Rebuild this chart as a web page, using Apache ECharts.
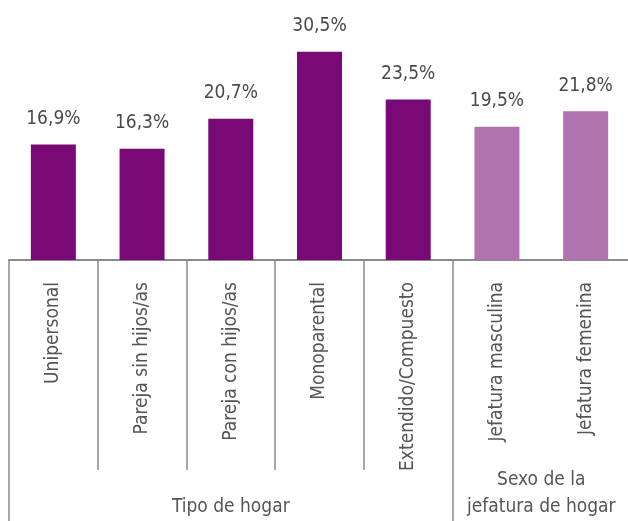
<!DOCTYPE html>
<html>
<head>
<meta charset="utf-8">
<script src="https://cdn.jsdelivr.net/npm/echarts@6/dist/echarts.min.js"></script>
<style>
    html, body { margin: 0; padding: 0; background: #fff; overflow: hidden; }
    #wrap { width: 628px; height: 521px; overflow: hidden; }
    #chart { width: 632px; height: 521px; }
</style>
</head>
<body>
<div id="wrap"><div id="chart"></div></div>
<script>
const categories = ['Unipersonal', 'Pareja sin hijos/as', 'Pareja con hijos/as', 'Monoparental', 'Extendido/Compuesto', 'Jefatura masculina', 'Jefatura femenina'];
const values = [16.9, 16.3, 20.7, 30.5, 23.5, 19.5, 21.8];
const barGroup = [0, 0, 0, 0, 0, 1, 1];
const groupNames = ['Tipo de hogar', 'Sexo de la\njefatura de hogar'];
const groupFirst = [0, 5];
const groupLast = [4, 6];

const FONT = '"DejaVu Sans Condensed", "Liberation Sans Narrow", sans-serif';
const colors = ['#790a75', '#b172b0'];

// ticks of different lengths: one hidden axis per length
function tickAxis(len, keep) {
    return {
        type: 'category',
        data: categories,
        position: 'bottom',
        axisLine: { show: false },
        axisLabel: { show: false },
        axisTick: {
            show: true,
            length: len,
            interval: (i) => keep.includes(i),
            lineStyle: { color: '#8a8a8a', width: 1.5 }
        }
    };
}

const chart = echarts.init(document.getElementById('chart'));
chart.setOption({
    animation: false,
    // right edge sits just past the visible 628px, so the closing tick is hidden
    grid: { left: 9, right: 2, top: 21, bottom: 261 },
    xAxis: [
        {
            type: 'category',
            data: categories,
            axisLine: { show: true, lineStyle: { color: '#8a8a8a', width: 2 } },
            axisTick: { show: false },
            axisLabel: {
                interval: 0,
                rotate: 90,
                margin: 22,
                color: '#555',
                fontFamily: FONT,
                fontSize: 19
            }
        },
        tickAxis(262, [0, 5]),
        tickAxis(210, [1, 2, 3, 4]),
        tickAxis(196, [6])
    ],
    yAxis: { type: 'value', min: 0, max: 35, show: false },
    series: [{
        type: 'bar',
        barWidth: 45,
        data: values.map((v, i) => ({ value: v, itemStyle: { color: colors[barGroup[i]] } })),
        label: {
            show: true,
            position: 'top',
            distance: 16,
            color: '#4a4a4a',
            fontFamily: FONT,
            fontSize: 19,
            formatter: (p) => p.value.toFixed(1).replace('.', ',') + '%'
        }
    }]
});

// group titles centred under their categories
const baseY = chart.convertToPixel({ yAxisIndex: 0 }, 0);
chart.setOption({
    graphic: groupNames.map((name, g) => ({
        type: 'text',
        x: (chart.convertToPixel({ xAxisIndex: 0 }, groupFirst[g]) + chart.convertToPixel({ xAxisIndex: 0 }, groupLast[g])) / 2,
        y: baseY + 261,
        style: {
            text: name,
            fill: '#555',
            font: '19px ' + FONT,
            lineHeight: 27,
            align: 'center',
            verticalAlign: 'bottom'
        }
    }))
});
</script>
</body>
</html>
